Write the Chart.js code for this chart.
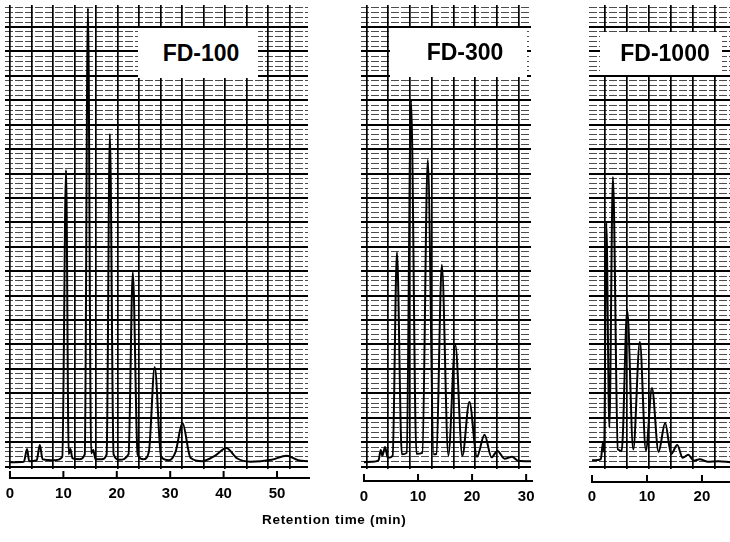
<!DOCTYPE html>
<html><head><meta charset="utf-8">
<script src="https://cdn.jsdelivr.net/npm/chart.js@4.4.1/dist/chart.umd.min.js"></script>
<style>
html,body{margin:0;padding:0;background:#fff;width:730px;height:542px;overflow:hidden;position:relative;font-family:"Liberation Sans",Arial,sans-serif;}
.panel{position:absolute;top:0;height:520px;}
.lbl{position:absolute;background:#fff;font-weight:bold;font-size:23px;color:#000;display:flex;align-items:center;justify-content:center;box-sizing:border-box;z-index:2;}
#title{position:absolute;left:262px;top:512px;font-weight:bold;font-size:13.5px;line-height:16px;letter-spacing:0.7px;white-space:nowrap;color:#000;}
</style></head><body>
<div class="panel" id="w1"><canvas id="c1"></canvas></div>
<div class="panel" id="w2"><canvas id="c2"></canvas></div>
<div class="panel" id="w3"><canvas id="c3"></canvas></div>
<div class="lbl" style="left:138px;top:28px;width:120px;height:50px;padding-left:6px">FD-100</div>
<div class="lbl" style="left:390px;top:28px;width:137px;height:49px;padding-left:13px">FD-300</div>
<div class="lbl" style="left:600px;top:32px;width:122px;height:43px;padding-left:8px">FD-1000</div>
<div id="title">Retention time (min)</div>
<script>
// ---- data (retention time in min, detector response in chart-paper divisions) ----
const FD100_T = [0,2.6,3.2,3.6,5.0,5.6,6.1,8.5,9.8,10.5,11.0,11.3,11.7,13.0,14.0,14.6,15.2,15.6,16.0,17.2,18.1,18.7,19.4,20.5,22.2,23.0,23.9,25.0,26.0,27.1,28.3,29.8,31.0,32.3,33.8,36.0,38.5,40.5,42.5,45.0,49.0,51.8,54.0,55.8];
const FD100_V = [0.9,1.0,3.6,1.1,1.3,4.4,1.5,1.3,2.0,60.7,2.5,3.6,1.7,1.5,2.5,93.9,2.7,3.4,1.5,1.5,2.5,68.1,2.5,1.4,2.5,39.8,2.5,1.5,3.0,20.4,2.0,1.3,3.0,8.9,1.8,1.1,2.3,3.8,1.7,1.0,1.4,2.2,1.3,1.1];

const FD300_T = [0,1.5,2.7,3.1,3.4,3.9,4.4,5.3,6.1,7.0,7.9,8.7,9.7,10.8,11.8,12.9,13.4,14.4,15.6,16.9,18.2,19.5,20.9,22.3,23.6,24.7,26.0,27.4,28.5,30.9];
const FD300_V = [0.9,1.0,1.3,3.4,2.2,4.0,1.8,2.2,43.9,2.5,2.8,75.0,2.6,2.8,62.8,2.5,2.6,41.3,2.3,24.9,2.2,13.2,2.0,6.5,1.9,3.2,1.6,2.0,1.2,1.1];

const FD1000_T = [0,0.5,1.6,2.0,2.2,2.6,3.15,3.8,4.7,5.4,6.4,7.5,8.7,9.8,10.9,12.1,13.3,14.4,15.5,16.5,17.5,18.5,19.6,21.0,23.0,25.1];
const FD1000_V = [1.3,1.3,1.5,5.0,3.0,49.9,8.0,59.3,3.5,3.2,32.0,3.5,25.5,3.3,16.1,3.0,8.9,2.6,4.4,1.8,2.4,1.2,1.5,1.0,1.1,0.9];

const TICKS_100 = [0,10,20,30,40,50];
const TICKS_300 = [0,10,20,30];
const TICKS_1000 = [0,10,20];

// ---- layout / style ----
const PANELS = [
  {cv:'c1', wrap:'w1', left:5,   right:308, tMin:-0.93, tMax:55.8, T:FD100_T,  V:FD100_V,  ticks:TICKS_100,  gStart:0,    gStep:4.03, axOff:9,  lPad:16},
  {cv:'c2', wrap:'w2', left:361, right:531, tMin:-0.55, tMax:30.9, T:FD300_T,  V:FD300_V,  ticks:TICKS_300,  gStart:0.45, gStep:4.03, axOff:12, lPad:19},
  {cv:'c3', wrap:'w3', left:589, right:730, tMin:-0.55, tMax:25.1, T:FD1000_T, V:FD1000_V, ticks:TICKS_1000, gStart:2.36, gStep:4.0,  axOff:13, lPad:19}
];
const EXTRA = 8, TOP = 5, BOTTOM_AREA = 469, H = 520;
const Y_MIN = -0.5, Y_MAX = 94.5;

const axisLinePlugin = {
  id: 'axisLine',
  afterDatasetsDraw(chart, args, opts) {
    const ctx = chart.ctx, xs = chart.scales.x, ca = chart.chartArea;
    const y = ca.bottom + opts.offset;
    ctx.save();
    ctx.strokeStyle = '#000'; ctx.lineWidth = 2; ctx.lineCap = 'butt';
    ctx.beginPath();
    ctx.moveTo(xs.getPixelForValue(0), y);
    ctx.lineTo(ca.right + 2, y);
    for (const t of opts.ticks) {
      const px = xs.getPixelForValue(t);
      ctx.moveTo(px, y + 1);
      ctx.lineTo(px, y - 7);
    }
    ctx.stroke();
    ctx.restore();
  }
};

function range(a, b, step) { const r = []; for (let v = a; v <= b + 1e-9; v += step) r.push(+v.toFixed(4)); return r; }

PANELS.forEach(p => {
  const w = document.getElementById(p.wrap);
  w.style.left = (p.left - EXTRA) + 'px';
  w.style.width = (p.right - p.left + 2 * EXTRA) + 'px';
  const pts = p.T.map((t, i) => ({x: t, y: p.V[i]}));
  const majorTicks = range(0, 90, 5);
  const fineTicks = range(0, 94, 1).filter(v => v % 5 !== 0);
  const gridX = range(p.gStart, p.tMax, p.gStep);
  new Chart(document.getElementById(p.cv), {
    type: 'line',
    data: { datasets: [{ data: pts, borderColor: '#000', borderWidth: 2, pointRadius: 0, fill: false, cubicInterpolationMode: 'monotone' }] },
    options: {
      responsive: true, maintainAspectRatio: false, animation: false,
      layout: { padding: { top: TOP, left: EXTRA, right: EXTRA, bottom: 0 } },
      plugins: { legend: { display: false }, tooltip: { enabled: false }, axisLine: { offset: p.axOff, ticks: p.ticks } },
      scales: {
        x: {
          type: 'linear', position: 'bottom', min: p.tMin, max: p.tMax,
          afterBuildTicks: s => { s.ticks = p.ticks.map(v => ({value: v})); },
          afterFit: s => { s.height = H - BOTTOM_AREA; s.paddingLeft = 0; s.paddingRight = 0; },
          grid: { display: false, drawTicks: false },
          border: { display: false },
          ticks: { color: '#000', padding: p.lPad, maxRotation: 0, autoSkip: false, font: { family: '"Liberation Sans", Arial, sans-serif', size: 15, weight: 'bold' } }
        },
        xp: {
          type: 'linear', position: 'top', min: p.tMin, max: p.tMax,
          afterBuildTicks: s => { s.ticks = gridX.map(v => ({value: v})); },
          afterFit: s => { s.height = 0; s.paddingLeft = 0; s.paddingRight = 0; },
          ticks: { display: false },
          grid: { color: '#000', lineWidth: 1.7, drawTicks: false },
          border: { display: false }
        },
        yf: {
          type: 'linear', position: 'left', min: Y_MIN, max: Y_MAX,
          afterBuildTicks: s => { s.ticks = fineTicks.map(v => ({value: v})); },
          afterFit: s => { s.width = 0; },
          ticks: { display: false },
          grid: { color: 'rgba(0,0,0,0.7)', lineWidth: 1, drawTicks: false },
          border: { display: false, dash: [8, 2] }
        },
        y: {
          type: 'linear', position: 'left', min: Y_MIN, max: Y_MAX,
          afterBuildTicks: s => { s.ticks = majorTicks.map(v => ({value: v})); },
          afterFit: s => { s.width = 0; },
          ticks: { display: false },
          grid: { color: '#000', lineWidth: 2, drawTicks: false },
          border: { display: false }
        }
      }
    },
    plugins: [axisLinePlugin]
  });
});
</script>
</body></html>
